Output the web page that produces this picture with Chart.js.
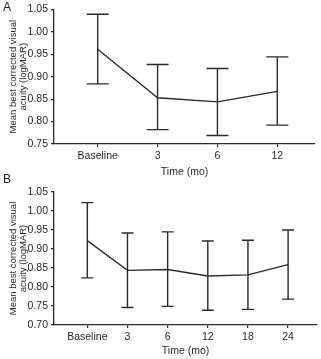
<!DOCTYPE html>
<html>
<head>
<meta charset="utf-8">
<script src="https://cdn.jsdelivr.net/npm/chart.js@4"></script>
<style>
  body{margin:0;background:#fff;width:321px;height:359px;overflow:hidden;position:relative;font-family:"Liberation Sans",Arial,sans-serif;}
  .panel{position:absolute;left:0;width:321px;}
  .tag{position:absolute;left:3px;font-size:12px;color:#222;}
</style>
</head>
<body>
<div class="tag" style="top:0px">A</div>
<div class="panel" style="top:0;height:180px"><canvas id="chartA" width="321" height="180"></canvas></div>
<div class="tag" style="top:172px">B</div>
<div class="panel" style="top:178px;height:181px"><canvas id="chartB" width="321" height="181"></canvas></div>
<script>
// panel A: 12 month follow-up
const labelsA = ["Baseline", "3", "6", "12"];
const meanA = [0.961, 0.853, 0.844, 0.867];
const upperA = [1.039, 0.927, 0.918, 0.944];
const lowerA = [0.884, 0.782, 0.769, 0.792];
const yTicksA = [0.75, 0.80, 0.85, 0.90, 0.95, 1.00, 1.05];

// panel B: 24 month follow-up
const labelsB = ["Baseline", "3", "6", "12", "18", "24"];
const meanB = [0.922, 0.844, 0.846, 0.829, 0.832, 0.859];
const upperB = [1.022, 0.942, 0.945, 0.921, 0.923, 0.950];
const lowerB = [0.824, 0.746, 0.749, 0.739, 0.741, 0.768];
const yTicksB = [0.70, 0.75, 0.80, 0.85, 0.90, 0.95, 1.00, 1.05];

const ink = "#2a2a2a";
const font = "'Liberation Sans', Arial, sans-serif";

const errorBars = {
    id: "errorBars",
    afterDatasetsDraw(chart, args, opts){
        const x = chart.scales.x, y = chart.scales.y;
        const ctx = chart.ctx;
        ctx.save();
        ctx.strokeStyle = ink;
        ctx.lineWidth = 1.4;
        opts.upper.forEach((hi, i) => {
            const px = x.getPixelForValue(i);
            const top = y.getPixelForValue(hi);
            const bot = y.getPixelForValue(opts.lower[i]);
            ctx.beginPath();
            ctx.moveTo(px, top); ctx.lineTo(px, bot);
            ctx.moveTo(px - opts.cap, top); ctx.lineTo(px + opts.cap, top);
            ctx.moveTo(px - opts.cap, bot); ctx.lineTo(px + opts.cap, bot);
            ctx.stroke();
        });
        ctx.restore();
    }
};

function makeChart(id, labels, mean, upper, lower, yTicks, xMin, xMax, pad, xHeight, cap){
    new Chart(document.getElementById(id), {
        type: "line",
        data: {
            datasets: [{
                data: mean.map((v, i) => ({x: i, y: v})),
                borderColor: ink,
                borderWidth: 1.3,
                pointRadius: 0,
                tension: 0
            }]
        },
        options: {
            responsive: false,
            animation: false,
            layout: {padding: {top: pad.top, right: pad.right, left: 0, bottom: 0}},
            plugins: {
                legend: {display: false},
                tooltip: {enabled: false},
                errorBars: {upper: upper, lower: lower, cap: cap}
            },
            scales: {
                x: {
                    type: "linear",
                    min: xMin,
                    max: xMax,
                    afterBuildTicks: s => { s.ticks = labels.map((l, i) => ({value: i})); },
                    afterFit: s => { s.height = xHeight; },
                    ticks: {
                        callback: v => labels[v],
                        color: ink,
                        font: {family: font, size: 10.5},
                        padding: 3,
                        maxRotation: 0
                    },
                    grid: {drawOnChartArea: false, tickLength: 3, color: ink, lineWidth: 1.2},
                    border: {color: ink, width: 1.3},
                    title: {
                        display: true,
                        text: "Time (mo)",
                        color: ink,
                        font: {family: font, size: 10.5},
                        padding: {top: 0, bottom: 2}
                    }
                },
                y: {
                    min: yTicks[0],
                    max: yTicks[yTicks.length - 1],
                    afterBuildTicks: s => { s.ticks = yTicks.map(v => ({value: v})); },
                    afterFit: s => { s.width = 54; },
                    ticks: {
                        callback: v => v.toFixed(2),
                        color: ink,
                        font: {family: font, size: 10.5},
                        padding: 3
                    },
                    grid: {drawOnChartArea: false, tickLength: 3, color: ink, lineWidth: 1.2},
                    border: {color: ink, width: 1.3},
                    title: {
                        display: true,
                        text: ["Mean best corrected visual", "acuity (logMAR)"],
                        color: ink,
                        font: {family: font, size: 9.5, lineHeight: 1.05},
                        padding: {top: 8.3, bottom: 0}
                    }
                }
            }
        },
        plugins: [errorBars]
    });
}

makeChart("chartA", labelsA, meanA, upperA, lowerA, yTicksA, -0.73, 3.63, {top: 7, right: 6}, 36, 11);
makeChart("chartB", labelsB, meanB, upperB, lowerB, yTicksB, -0.83, 5.72, {top: 14, right: 4}, 34, 6);
</script>
</body>
</html>
